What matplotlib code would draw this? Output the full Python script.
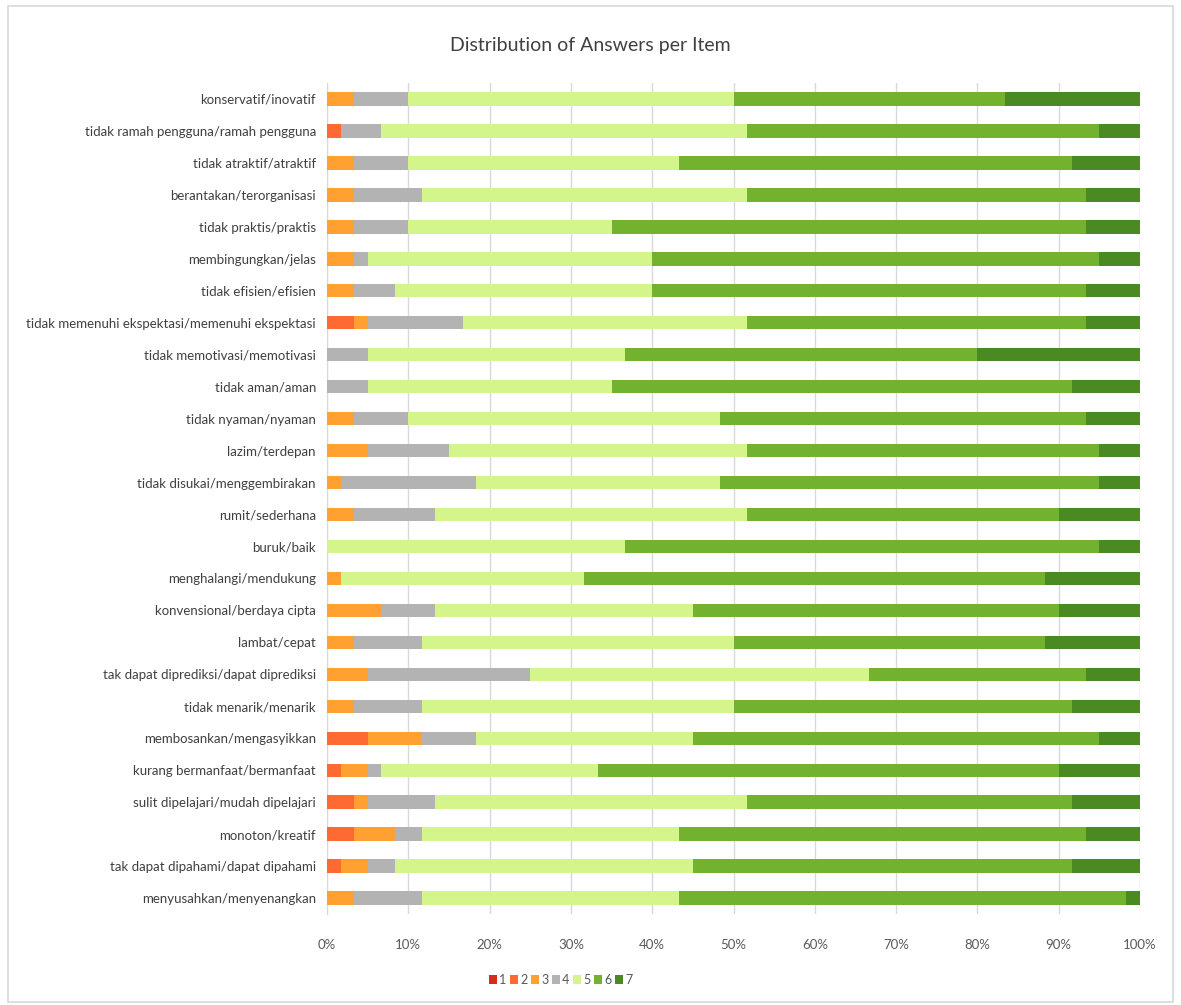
import numpy as np
import matplotlib
matplotlib.use("Agg")
import matplotlib.pyplot as plt
from matplotlib.patches import Rectangle

plt.rcParams['font.family'] = ['Lato', 'DejaVu Sans']

# items, top to bottom as in the chart
items = [
    "konservatif/inovatif",
    "tidak ramah pengguna/ramah pengguna",
    "tidak atraktif/atraktif",
    "berantakan/terorganisasi",
    "tidak praktis/praktis",
    "membingungkan/jelas",
    "tidak efisien/efisien",
    "tidak memenuhi ekspektasi/memenuhi ekspektasi",
    "tidak memotivasi/memotivasi",
    "tidak aman/aman",
    "tidak nyaman/nyaman",
    "lazim/terdepan",
    "tidak disukai/menggembirakan",
    "rumit/sederhana",
    "buruk/baik",
    "menghalangi/mendukung",
    "konvensional/berdaya cipta",
    "lambat/cepat",
    "tak dapat diprediksi/dapat diprediksi",
    "tidak menarik/menarik",
    "membosankan/mengasyikkan",
    "kurang bermanfaat/bermanfaat",
    "sulit dipelajari/mudah dipelajari",
    "monoton/kreatif",
    "tak dapat dipahami/dapat dipahami",
    "menyusahkan/menyenangkan",
]

# number of answers per scale point (60 respondents), same order as items
ans1 = [0, 0, 0, 0, 0, 0, 0, 0, 0, 0, 0, 0, 0, 0, 0, 0, 0, 0, 0, 0, 0, 0, 0, 0, 0, 0]
ans2 = [0, 1, 0, 0, 0, 0, 0, 2, 0, 0, 0, 0, 0, 0, 0, 0, 0, 0, 0, 0, 3, 1, 2, 2, 1, 0]
ans3 = [2, 0, 2, 2, 2, 2, 2, 1, 0, 0, 2, 3, 1, 2, 0, 1, 4, 2, 3, 2, 4, 2, 1, 3, 2, 2]
ans4 = [4, 3, 4, 5, 4, 1, 3, 7, 3, 3, 4, 6, 10, 6, 0, 0, 4, 5, 12, 5, 4, 1, 5, 2, 2, 5]
ans5 = [24, 27, 20, 24, 15, 21, 19, 21, 19, 18, 23, 22, 18, 23, 22, 18, 19, 23, 25, 23, 16, 16, 23, 19, 22, 19]
ans6 = [20, 26, 29, 25, 35, 33, 32, 25, 26, 34, 27, 26, 28, 23, 35, 34, 27, 23, 16, 25, 30, 34, 24, 30, 28, 33]
ans7 = [10, 3, 5, 4, 4, 3, 4, 4, 12, 5, 4, 3, 3, 6, 3, 7, 6, 7, 4, 5, 3, 6, 5, 4, 5, 1]

series = [ans1, ans2, ans3, ans4, ans5, ans6, ans7]
labels = ["1", "2", "3", "4", "5", "6", "7"]
colors = ["#D62B1E", "#FF6A33", "#FFA033", "#B3B3B3", "#D4F58C", "#72B22E", "#4B8A22"]

data = np.array(series, dtype=float)
pct = data / data.sum(axis=0) * 100

fig = plt.figure(figsize=(11.81, 10.05), dpi=100)
ax = fig.add_axes([0.2769, 0.0905, 0.9653 - 0.2769, 0.9174 - 0.0905])

y = np.arange(len(items))
left = np.zeros(len(items))
for vals, lab, col in zip(pct, labels, colors):
    ax.barh(y, vals, left=left, height=0.42, color=col, label=lab, zorder=3)
    left += vals

ax.set_xlim(0, 100)
ax.set_ylim(len(items) - 0.5, -0.5)
ax.set_yticks(y)
ax.set_yticklabels(items, fontsize=9.5, color="#404040")
ax.set_xticks(np.arange(0, 101, 10))
ax.set_xticklabels([f"{v}%" for v in range(0, 101, 10)], fontsize=9.5, color="#595959")
ax.tick_params(length=0, pad=8)
ax.tick_params(axis="x", pad=18)
ax.grid(axis="x", color="#D9D9D9", linewidth=1, zorder=0)
for s in ["top", "right", "bottom"]:
    ax.spines[s].set_visible(False)
ax.spines["left"].set_color("#D9D9D9")

fig.text(0.5, 0.955, "Distribution of Answers per Item", ha="center", va="center",
         fontsize=14, color="#404040")

# legend sits a bit left of centre, as in the original
fig.legend(loc="center", bbox_to_anchor=(0.475, 0.025), ncol=7, frameon=False,
           fontsize=9, handlelength=0.6, handleheight=0.7, handletextpad=0.2,
           columnspacing=0.3, labelcolor="#595959")

fig.add_artist(Rectangle((0.007, 0.003), 0.986, 0.991, transform=fig.transFigure,
                         fill=False, edgecolor="#D9D9D9", linewidth=1.2))

fig.savefig("out.png", dpi=100, facecolor="white")
